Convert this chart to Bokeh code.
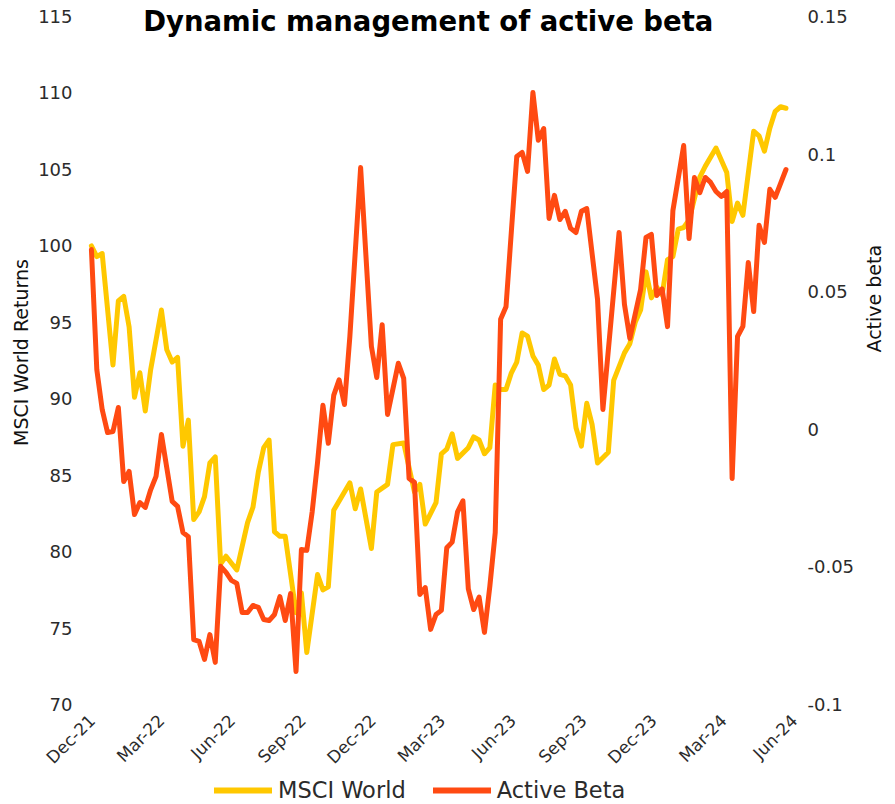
import numpy as np
import pandas as pd
from math import pi
from bokeh.plotting import figure
from bokeh.layouts import column
from bokeh.models import (Range1d, LinearAxis, FixedTicker, DatetimeTickFormatter,
                          CustomJSTickFormatter, Legend, LegendItem, Label)
from bokeh.embed import file_html
from bokeh.resources import INLINE

# ---------------- data ----------------
start_date = "2021-11-30"   # week 0 (weekly observations)

msci_weeks = [0, 1, 2, 4, 5, 6, 7, 8, 9, 10, 11, 13, 14, 15, 16, 17, 18, 19, 20, 21,
              22, 23, 24, 25, 27, 29, 30, 31, 32, 33, 34, 35, 36, 38, 39, 40, 42, 43, 44, 45,
              48, 49, 50, 52, 53, 55, 56, 58, 60, 61, 62, 64, 65, 66, 67, 68, 70, 71, 72, 73,
              74, 75, 76, 77, 78, 79, 80, 81, 82, 83, 84, 85, 86, 87, 88, 89, 90, 91, 92, 93,
              94, 96, 97, 99, 100, 101, 102, 103, 104, 105, 106, 107, 108, 109, 110, 111, 113, 114, 116, 118,
              119, 120, 121, 123, 124, 125, 126, 127, 128, 129]
msci_values = [100.0, 99.3, 99.5, 92.2, 96.4, 96.7, 94.7, 90.1, 91.7, 89.2, 91.9, 95.8, 93.2, 92.4, 92.7, 86.9, 88.6, 82.1, 82.6, 83.6,
               85.8, 86.2, 79.2, 79.7, 78.8, 81.9, 82.9, 85.2, 86.8, 87.3, 81.3, 81.0, 81.0, 76.0, 77.3, 73.4, 78.5, 77.5, 77.7, 82.7,
               84.5, 82.8, 84.1, 80.2, 83.9, 84.4, 87.0, 87.1, 83.9, 84.4, 81.8, 83.2, 86.4, 86.7, 87.7, 86.1, 86.8, 87.5, 87.3, 86.4,
               86.8, 90.9, 90.6, 90.6, 91.7, 92.4, 94.3, 94.1, 92.8, 92.2, 90.6, 90.9, 92.6, 91.6, 91.5, 90.9, 88.1, 86.9, 89.7, 88.3,
               85.8, 86.5, 91.2, 93.0, 93.6, 95.0, 95.8, 98.3, 96.6, 97.3, 96.8, 99.1, 99.3, 101.1, 101.2, 101.7, 104.5, 105.2, 106.4, 104.8,
               101.6, 102.8, 102.0, 107.5, 107.2, 106.2, 107.7, 108.8, 109.1, 109.0]

beta_weeks = [0, 1, 2, 3, 4, 5, 6, 7, 8, 9, 10, 11, 12, 13, 14, 15, 16, 17, 18, 19,
              20, 21, 22, 23, 24, 25, 26, 27, 28, 29, 30, 31, 32, 33, 34, 35, 36, 37, 38, 39,
              40, 41, 42, 43, 44, 45, 46, 47, 48, 50, 52, 53, 54, 55, 57, 58, 59, 60, 61, 62,
              63, 64, 65, 66, 67, 68, 69, 70, 71, 72, 73, 74, 75, 76, 77, 78, 79, 80, 81, 82,
              83, 84, 85, 86, 87, 88, 89, 90, 91, 92, 94, 95, 98, 99, 100, 102, 103, 104, 105, 106,
              107, 108, 110, 111, 112, 113, 114, 115, 116, 117, 118, 119, 120, 121, 122, 123, 124, 125, 126, 127,
              129]
beta_values = [0.0653, 0.0217, 0.0072, -0.0012, -0.0008, 0.0079, -0.019, -0.0153, -0.031, -0.0266, -0.0284, -0.022, -0.0171, -0.0019, -0.014, -0.0262, -0.028, -0.0375, -0.039, -0.0764,
               -0.0771, -0.0836, -0.0746, -0.0847, -0.0498, -0.052, -0.0549, -0.056, -0.0666, -0.0666, -0.064, -0.0647, -0.0691, -0.0695, -0.0673, -0.0608, -0.0695, -0.0597, -0.088, -0.0437,
               -0.044, -0.030, -0.012, 0.0087, -0.0051, 0.0123, 0.018, 0.009, 0.0337, 0.0951, 0.0301, 0.0188, 0.038, 0.0054, 0.024, 0.0185, -0.0179, -0.0193, -0.060, -0.0575,
               -0.0727, -0.0673, -0.0658, -0.043, -0.041, -0.030, -0.026, -0.058, -0.0655, -0.061, -0.0738, -0.057, -0.0375, 0.040, 0.0445, 0.072, 0.0991, 0.1006, 0.0937, 0.1224,
               0.105, 0.1093, 0.0766, 0.085, 0.0762, 0.0792, 0.073, 0.0715, 0.0792, 0.0802, 0.0472, 0.0072, 0.0715, 0.0454, 0.033, 0.0508, 0.0697, 0.0708, 0.0486, 0.051,
               0.0373, 0.0795, 0.1031, 0.0693, 0.0915, 0.086, 0.0915, 0.0897, 0.0864, 0.0846, 0.0864, -0.0179, 0.0337, 0.0374, 0.0606, 0.0428, 0.0741, 0.0679, 0.0872, 0.0843,
               0.0944]

x_tick_dates = ["2021-12-01", "2022-03-01", "2022-06-01", "2022-09-01", "2022-12-01", "2023-03-01",
                "2023-06-01", "2023-09-01", "2023-12-01", "2024-03-01", "2024-06-01"]
left_ticks = [70, 75, 80, 85, 90, 95, 100, 105, 110, 115]
right_ticks = [-0.1, -0.05, 0, 0.05, 0.1, 0.15]

title_text = "Dynamic management of active beta"
left_label = "MSCI World Returns"
right_label = "Active beta"
series_names = ["MSCI World", "Active Beta"]

# ---------------- styling ----------------
YELLOW = "#FFC800"
RED = "#FF4A12"
FONT = "DejaVu Sans"
TXT = "#2b2b2b"
FRAME_W = 715
BORDER_L = 84
BORDER_R = 94


def to_dates(weeks):
    return pd.Timestamp(start_date) + pd.to_timedelta(np.array(weeks) * 7, unit="D")


def ms(d):
    return pd.Timestamp(d).value / 1e6


p = figure(frame_width=FRAME_W, frame_height=704, x_axis_type="datetime",
           x_range=Range1d(ms("2021-11-21"), ms("2024-06-07 14:00")),
           y_range=Range1d(70, 116.05),
           output_backend="svg", toolbar_location=None,
           min_border_left=BORDER_L, min_border_right=BORDER_R, min_border_top=0, min_border_bottom=74)
p.extra_y_ranges = {"beta": Range1d(-0.1, 0.1558)}

p.outline_line_color = None
p.xgrid.grid_line_color = None
p.ygrid.grid_line_color = None
p.background_fill_color = "white"
p.border_fill_color = "white"

r1 = p.line(to_dates(msci_weeks), msci_values, line_color=YELLOW, line_width=5,
            line_join="round", line_cap="round")
r2 = p.line(to_dates(beta_weeks), beta_values, line_color=RED, line_width=5,
            line_join="round", line_cap="round", y_range_name="beta")

right_axis = LinearAxis(y_range_name="beta")
p.add_layout(right_axis, "right")

for ax in [p.xaxis[0], p.yaxis[0], right_axis]:
    ax.axis_line_color = None
    ax.major_tick_line_color = None
    ax.minor_tick_line_color = None
    ax.major_tick_out = 0
    ax.major_tick_in = 0
    ax.minor_tick_out = 0
    ax.minor_tick_in = 0
    ax.major_label_text_font = FONT
    ax.major_label_text_font_size = "18px"
    ax.major_label_text_color = TXT
    ax.axis_label_text_font = FONT
    ax.axis_label_text_font_style = "normal"
    ax.axis_label_text_color = "#111111"

xa = p.xaxis[0]
xa.ticker = FixedTicker(ticks=[ms(d) for d in x_tick_dates])
fmt = "%b-%y"
xa.formatter = DatetimeTickFormatter(milliseconds=fmt, seconds=fmt, minsec=fmt, minutes=fmt,
                                     hourmin=fmt, hours=fmt, days=fmt, months=fmt, years=fmt)
xa.major_label_orientation = pi / 4
xa.major_label_text_font_size = "17px"
xa.major_label_standoff = 13

ya = p.yaxis[0]
ya.ticker = FixedTicker(ticks=left_ticks)
ya.axis_label = left_label
ya.axis_label_text_font_size = "19px"
ya.major_label_standoff = 12
ya.axis_label_standoff = 3

right_axis.ticker = FixedTicker(ticks=right_ticks)
right_axis.formatter = CustomJSTickFormatter(code="return String(Math.round(tick*100)/100);")
right_axis.axis_label = right_label
right_axis.axis_label_text_font_size = "19px"
right_axis.axis_label_orientation = pi / 2
right_axis.major_label_standoff = 8
right_axis.axis_label_standoff = 17

title = Label(x=ms("2023-02-11"), y=114.68, text=title_text, text_align="center",
              text_baseline="middle", text_font=FONT, text_font_size="27.5px",
              text_font_style="bold", text_color="#000000")
p.add_layout(title)

# ---- legend row (separate strip under the chart; key lines lie outside its visible range) ----
leg_fig = figure(frame_width=FRAME_W, frame_height=25, output_backend="svg", toolbar_location=None,
                 x_range=Range1d(0, 1), y_range=Range1d(0, 1),
                 x_axis_location=None, y_axis_location=None,
                 min_border_left=BORDER_L, min_border_right=BORDER_R, min_border_top=0, min_border_bottom=0)
leg_fig.outline_line_color = None
leg_fig.xgrid.grid_line_color = None
leg_fig.ygrid.grid_line_color = None
k1 = leg_fig.line(x=[-5, -4], y=[-5, -4], line_color=YELLOW, line_width=6, line_cap="round")
k2 = leg_fig.line(x=[-5, -4], y=[-5, -4], line_color=RED, line_width=6, line_cap="round")
legend = Legend(items=[LegendItem(label=series_names[0], renderers=[k1]),
                       LegendItem(label=series_names[1], renderers=[k2])],
                orientation="horizontal", location=(130, 0),
                glyph_width=58, glyph_height=20, label_standoff=6, spacing=27,
                padding=0, margin=0, border_line_color=None, background_fill_alpha=0,
                label_text_font=FONT, label_text_font_size="22.5px", label_text_color=TXT)
leg_fig.add_layout(legend)

open("out.html", "w").write(file_html(column(p, leg_fig, spacing=0), INLINE))
